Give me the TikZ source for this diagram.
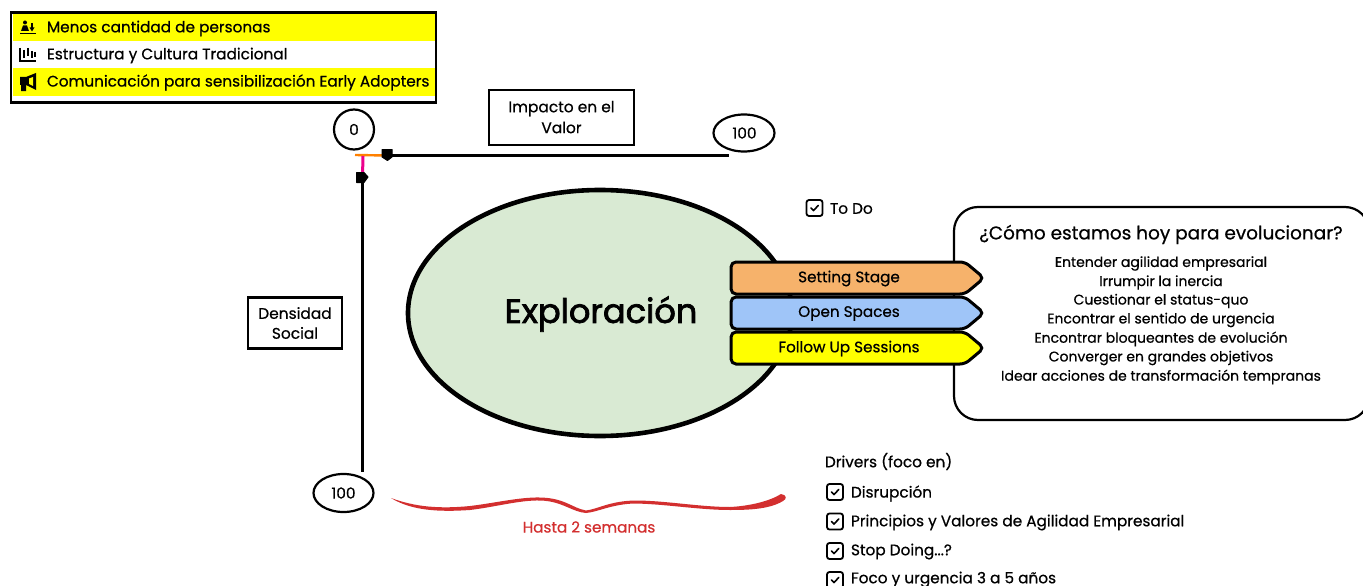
\documentclass[tikz,border=0pt]{standalone}
\usepackage{fontspec}
\setmainfont{Poppins}[RawFeature={embolden=0.6}]
\newfontfamily\heavyfont{Poppins}[RawFeature={embolden=2.2}]
\usetikzlibrary{shapes.geometric,shapes.symbols,positioning,calc}
\definecolor{ylw}{HTML}{FFFF00}
\definecolor{orng}{HTML}{F6B26B}
\definecolor{blu}{HTML}{9FC5F8}
\definecolor{grn}{HTML}{D9EAD3}
\definecolor{redd}{HTML}{D32F2F}
\newcommand{\fs}[1]{\fontsize{#1}{#1}\selectfont}
\tikzset{
  x=1pt,y=-1pt,
  every node/.style={inner sep=0pt,outer sep=0pt,text=black},
  lbl/.style={font=\fs{15.3},anchor=west,yshift=-1.5pt},
  ctr/.style={font=\fs{14},yshift=-1.5pt},
  oval/.style={draw,line width=2.2pt,ellipse,fill=white,font=\fs{15.3}},
  note/.style={draw,line width=2.6pt,fill=white,font=\fs{15.4},align=center,rectangle},
  band/.style={draw,line width=3pt,fill=#1,rounded corners=5pt,signal,signal to=east,signal pointer angle=80,minimum width=253pt,minimum height=32pt},
  chk/.style={draw,line width=1.8pt,rounded corners=2.5pt,minimum width=16pt,minimum height=16pt,anchor=center},
  tick/.style={line width=1.6pt,line cap=round,line join=round},
  axish/.style={line width=2.2pt},
  axisv/.style={line width=2.8pt},
  knob/.style={fill,draw,line width=1pt,line join=round},
}
\newcommand{\checkbox}[2]{%
  \node[chk] (#1) at (#2) {};
  \draw[tick] ($(#1.center)+(-3.6,0)$) -- ($(#1.center)+(-1,2.6)$) -- ($(#1.center)+(3.8,-2.6)$);
}
\begin{document}
\begin{tikzpicture}
\useasboundingbox (0,0) rectangle (1363,586);
\fill[white] (0,0) rectangle (1363,586);
% legend
\fill[ylw] (12.5,13) rectangle (435.5,41);
\fill[ylw] (12.5,68.5) rectangle (435.5,96);
\node[draw,line width=2.8pt,minimum width=425pt,minimum height=90pt,anchor=north west] (legend) at (11,12.5) {};
\node[lbl] (l1) at (47,27) {Menos cantidad de personas};
\node[lbl] (l2) at (47,54) {Estructura y Cultura Tradicional};
\node[lbl] (l3) at (47,81) {Comunicación para sensibilización Early Adopters};
% icon 1
\fill (25,22.5) circle (2);
\fill (21,31) -- (23,25.5) -- (27,25.5) -- (29,31) -- cycle;
\draw[line width=1.4pt] (20,33.5) -- (36,33.5);
\draw[line width=1.3pt] (32,23) -- (32,30);
\fill (29.5,27.5) -- (34.5,27.5) -- (32,31.5) -- cycle;
% icon 2
\draw[line width=1.5pt] (20,48) -- (20,61) -- (36,61);
\foreach \xx/\ya/\yb in {24/50/58,28/48/56,32/51/58,35/52/57}{\draw[line width=1.6pt] (\xx,\ya) -- (\xx,\yb);}
% icon 3
\fill (20,77) -- (26,77) -- (36,73) -- (36,90) -- (26,85) -- (26,91) -- (21,91) -- (21,85) -- (20,85) -- cycle;
\fill[ylw] (29,78.5) -- (33,77) -- (33,86) -- (29,84) -- cycle;
% scale
\node[oval,minimum width=40pt,minimum height=40pt] (zero) at (354,129.5) {0};
\node[oval,minimum width=61pt,minimum height=37pt] (hundredH) at (744,133) {\hspace*{1pt}100};
\node[oval,minimum width=60pt,minimum height=38pt] (hundredV) at (343.5,493) {100};
\node[note,minimum width=145pt,minimum height=55pt] (impacto) at (561.5,117.5) {\raisebox{1pt}{Impacto en el}\\[5.5pt]\raisebox{1pt}{Valor}};
\node[note,minimum width=94pt,minimum height=51pt] (densidad) at (295,323) {Densidad\\[4.5pt]Social};
\coordinate (hs) at (387,155.5);
\coordinate (he) at (729,155.5);
\coordinate (vs) at (362.5,177);
\coordinate (ve) at (362.5,472);
\coordinate (o1) at (355,155);
\draw[line width=2.4pt,orange] (o1) -- (hs);
\draw[line width=3pt,magenta] (363,156) -- (vs);
\draw[axish] (hs) -- (he);
\draw[axisv] (vs) -- (ve);
\draw[knob] (382,149.5) -- (392,149.5) -- (392,157) -- (387.5,160.5) -- (382,157) -- cycle;
\draw[knob] (356.5,172.5) -- (364,172.5) -- (368,177) -- (364,182.5) -- (356.5,182.5) -- cycle;
% main ellipse
\node[ellipse,draw,line width=4.6pt,fill=grn,minimum width=384pt,minimum height=246pt] (expl) at (600,313) {};
\node[font={\heavyfont\fs{33.6}}] (expltxt) at (601,314) {Exploración};
% callout
\draw[line width=2.2pt,fill=white,rounded corners=24pt] (954,420) -- (954,207) -- (1369,207) -- (1369,420) -- cycle;
\node[ctr,font=\fs{18.45}] (t0) at (1161,233) {¿Cómo estamos hoy para evolucionar?};
\node[ctr] (t1) at (1161,262) {Entender agilidad empresarial};
\node[ctr] (t2) at (1161,281) {Irrumpir la inercia};
\node[ctr] (t3) at (1161,299.5) {Cuestionar el status-quo};
\node[ctr] (t4) at (1161,318.5) {Encontrar el sentido de urgencia};
\node[ctr] (t5) at (1161,337.5) {Encontrar bloqueantes de evolución};
\node[ctr] (t6) at (1161,356.5) {Converger en grandes objetivos};
\node[ctr] (t7) at (1161,375.5) {Idear acciones de transformación tempranas};
% bands
\node[band=orng] (b1) at (848,278) {};
\node[band=blu] (b2) at (848,313) {};
\node[band=ylw] (b3) at (848,348) {};
\node[ctr,font=\fs{15.2}] (s1) at (849,277) {Setting Stage};
\node[ctr,font=\fs{15.2}] (s2) at (849,312) {Open Spaces};
\node[ctr,font=\fs{15.2}] (s3) at (849,347) {Follow Up Sessions};
% to do
\checkbox{c0}{814.5,208}
\node[lbl] (todo) at (830,207) {To Do};
% drivers
\node[lbl] (dr) at (825,460) {Drivers (foco en)};
\checkbox{c1}{835,492}
\node[lbl] (d1) at (851,492) {Disrupción};
\checkbox{c2}{835,521.5}
\node[lbl] (d2) at (851,521) {Principios y Valores de Agilidad Empresarial};
\checkbox{c3}{835,551}
\node[lbl] (d3) at (851,550) {Stop Doing...?};
\checkbox{c4}{835,580}
\node[lbl] (d4) at (851,578) {Foco y urgencia 3 a 5 años};
% brace
\fill[redd] (391,498) .. controls (415,507) and (440,509) .. (470,506)
  .. controls (495,503) and (520,497) .. (540,497.5)
  .. controls (565,498) and (572,508) .. (586,510.5)
  .. controls (598,509) and (610,501) .. (635,500.5)
  .. controls (665,500.5) and (700,507) .. (730,507)
  .. controls (750,506) and (770,501) .. (781,494)
  .. controls (787,495) and (787,499) .. (783,501)
  .. controls (770,509) and (750,510) .. (730,510)
  .. controls (700,510) and (665,504) .. (635,503.5)
  .. controls (612,504) and (598,512) .. (586,513)
  .. controls (572,512) and (562,501) .. (540,500.5)
  .. controls (520,500) and (495,507) .. (470,510)
  .. controls (440,512) and (412,511) .. (391,498) -- cycle;
\node[font=\fs{15.2},text=redd,yshift=-1pt] (hasta) at (589,526) {Hasta 2 semanas};
\end{tikzpicture}
\end{document}
